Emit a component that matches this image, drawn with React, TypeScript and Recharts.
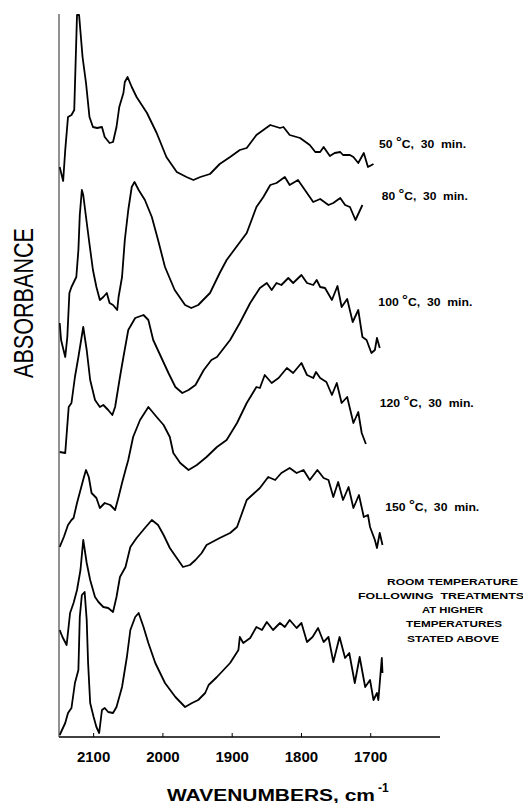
import React from 'react';
import { LineChart, Line, XAxis, YAxis, ReferenceDot } from 'recharts';

const FONT = '"Liberation Sans", Arial, Helvetica, sans-serif';

const X_TICKS = [2100, 2000, 1900, 1800, 1700];
const TEMPS = ['50', '80', '100', '120', '150'];
const ROOM_TEXT = ['ROOM TEMPERATURE', 'FOLLOWING  TREATMENTS', 'AT HIGHER', 'TEMPERATURES', 'STATED ABOVE'];

// [wavenumber cm-1, absorbance (offset, arbitrary units)]
const SPEC_50C: [number, number][] = [
  [2149,570],[2144,556],[2141,587],[2137,620],[2132,622],[2128,627],[2124,722],[2121,722],[2116,680],[2111,654],[2106,620],[2101,610],[2095,609],[2088,610],[2084,600],[2077,594],[2072,595],[2067,610],[2063,630],[2057,644],[2055,655],[2051,660],[2045,650],[2038,640],[2023,624],[2009,604],[1995,580],[1980,565],[1966,560],[1956,557],[1946,560],[1932,563],[1918,573],[1903,580],[1889,587],[1879,589],[1865,602],[1855,607],[1845,612],[1831,609],[1826,610],[1817,602],[1802,599],[1788,592],[1780,585],[1773,585],[1768,590],[1759,581],[1752,584],[1744,585],[1740,582],[1730,582],[1725,580],[1718,574],[1710,584],[1704,570],[1696,573],
];
const SPEC_80C: [number, number][] = [
  [2149,414],[2147,397],[2141,380],[2138,400],[2135,444],[2132,450],[2125,460],[2122,487],[2120,522],[2117,547],[2115,542],[2111,520],[2106,493],[2101,467],[2096,450],[2091,437],[2086,440],[2081,444],[2077,434],[2072,432],[2066,427],[2064,440],[2059,460],[2055,497],[2050,527],[2045,550],[2041,555],[2035,547],[2026,537],[2016,520],[2007,497],[1997,470],[1983,447],[1968,432],[1959,429],[1949,432],[1942,437],[1932,444],[1918,464],[1908,477],[1879,504],[1865,530],[1855,540],[1845,552],[1836,554],[1824,560],[1817,552],[1805,557],[1797,549],[1783,535],[1773,538],[1761,532],[1754,534],[1744,539],[1737,532],[1730,530],[1722,517],[1712,532],
];
const SPEC_100C: [number, number][] = [
  [2149,285],[2141,284],[2136,330],[2132,334],[2127,360],[2122,380],[2115,410],[2110,387],[2105,357],[2098,337],[2091,330],[2086,332],[2079,327],[2073,322],[2069,330],[2062,360],[2057,380],[2050,407],[2040,419],[2028,422],[2021,417],[2014,397],[2002,379],[1992,364],[1982,350],[1972,344],[1963,347],[1953,352],[1941,367],[1930,377],[1922,380],[1903,397],[1889,414],[1874,434],[1860,449],[1850,454],[1843,447],[1836,454],[1829,452],[1819,459],[1812,454],[1800,462],[1792,454],[1783,452],[1778,457],[1773,450],[1766,449],[1756,437],[1748,451],[1742,430],[1734,438],[1726,415],[1718,427],[1712,400],[1706,397],[1699,384],[1694,387],[1691,399],[1687,389],
];
const SPEC_120C: [number, number][] = [
  [2149,190],[2143,200],[2137,212],[2132,217],[2129,219],[2124,234],[2119,247],[2114,260],[2111,267],[2107,260],[2103,244],[2096,239],[2091,229],[2084,234],[2076,232],[2069,227],[2064,240],[2059,254],[2054,267],[2050,277],[2043,300],[2033,317],[2021,330],[2009,320],[1999,312],[1990,300],[1985,284],[1975,274],[1963,267],[1951,272],[1937,280],[1922,290],[1908,297],[1893,314],[1879,334],[1865,350],[1860,349],[1853,362],[1843,354],[1833,359],[1821,369],[1812,364],[1800,374],[1792,362],[1783,359],[1779,365],[1773,359],[1764,355],[1756,342],[1749,354],[1742,334],[1734,340],[1725,314],[1718,325],[1713,304],[1707,293],
];
const SPEC_150C: [number, number][] = [
  [2149,107],[2145,100],[2139,92],[2134,124],[2129,134],[2124,147],[2119,167],[2115,197],[2110,174],[2105,157],[2098,140],[2093,135],[2086,130],[2079,129],[2072,125],[2067,140],[2062,160],[2054,170],[2047,190],[2038,199],[2026,209],[2016,217],[2007,212],[1999,202],[1990,189],[1980,179],[1971,170],[1961,172],[1953,177],[1944,184],[1937,192],[1918,199],[1903,204],[1893,210],[1879,237],[1860,249],[1848,260],[1838,257],[1829,264],[1817,269],[1807,264],[1797,267],[1788,257],[1777,267],[1768,259],[1761,257],[1754,240],[1747,255],[1740,237],[1732,250],[1725,229],[1717,242],[1710,220],[1704,222],[1701,210],[1694,197],[1691,189],[1687,204],[1683,192],
];
const SPEC_RT: [number, number][] = [
  [2149,2],[2141,14],[2137,24],[2132,29],[2127,54],[2122,67],[2120,120],[2117,142],[2113,145],[2110,117],[2108,74],[2105,34],[2100,20],[2096,10],[2092,4],[2088,27],[2084,29],[2079,25],[2072,24],[2067,30],[2059,50],[2052,80],[2047,107],[2040,120],[2035,124],[2028,110],[2021,94],[2011,74],[1997,54],[1982,40],[1968,30],[1958,34],[1949,37],[1939,44],[1934,52],[1922,60],[1903,74],[1891,87],[1889,100],[1884,94],[1874,99],[1865,110],[1857,107],[1850,115],[1841,107],[1831,114],[1824,110],[1817,117],[1807,109],[1800,114],[1792,95],[1784,100],[1776,109],[1768,95],[1761,100],[1754,75],[1745,100],[1737,79],[1731,84],[1723,54],[1716,80],[1708,50],[1701,57],[1696,37],[1691,44],[1689,37],[1684,79],[1683,64],
];

const toPts = (arr: [number, number][]) => arr.map(([w, v]) => ({ w, v }));
const SERIES = [SPEC_50C, SPEC_80C, SPEC_100C, SPEC_120C, SPEC_150C, SPEC_RT].map(toPts);

const XTick = (props: any) => {
  const { x, y, payload } = props;
  return (
    <text x={x} y={y + 11} textAnchor="middle" fontFamily={FONT} fontSize={15} fontWeight="bold" fill="#000">
      {payload.value}
    </text>
  );
};

const XTitle = () => (
  <text x={159} y={793} fontFamily={FONT} fontSize={16} fontWeight="bold" fill="#000">
    <tspan textLength={208} lengthAdjust="spacingAndGlyphs">WAVENUMBERS, cm</tspan>
    <tspan dx={3} dy={-9} fontSize={12}>-1</tspan>
  </text>
);

const YTitle = () => (
  <text transform="translate(25,295) rotate(-90)" x={0} y={0} textAnchor="middle" fontFamily={FONT}
    fontSize={27} fill="#000" textLength={150} lengthAdjust="spacingAndGlyphs">
    ABSORBANCE
  </text>
);

const tempShape = (temp: string, len: number) => (p: any) => (
  <text x={p.cx} y={p.cy} fontFamily={FONT} fontSize={10} fontWeight="bold" fill="#000"
    textLength={len} lengthAdjust="spacingAndGlyphs" style={{ whiteSpace: 'pre' }}>
    {temp + ' '}
    <tspan fontSize={12} dy={-2}>°</tspan>
    <tspan dy={2}>C,  30  min.</tspan>
  </text>
);

const roomShape = (p: any) => {
  const offs = [[12.5, 0, 131], [1, 14, 166], [12.5, 28, 61], [14, 42, 96], [13, 57, 92]];
  return (
    <g>
      {ROOM_TEXT.map((t, i) => (
        <text key={i} x={p.cx + offs[i][0]} y={p.cy + offs[i][1]} textAnchor="middle" fontFamily={FONT}
          fontSize={9.5} fontWeight="bold" fill="#000" textLength={offs[i][2]} lengthAdjust="spacingAndGlyphs"
          style={{ whiteSpace: 'pre' }}>
          {t}
        </text>
      ))}
    </g>
  );
};

const LABEL_ANCHORS: { w: number; v: number; len: number }[] = [
  { w: 1688, v: 589, len: 87 },
  { w: 1684, v: 537, len: 86 },
  { w: 1689, v: 431, len: 94 },
  { w: 1687, v: 330, len: 94 },
  { w: 1679, v: 226, len: 94 },
];

export default function App() {
  return (
    <LineChart width={523} height={795} margin={{ top: 6, right: 91, bottom: 0, left: 0 }} style={{ overflow: 'visible' }}>
      <XAxis
        type="number"
        dataKey="w"
        domain={[1600, 2150]}
        reversed
        allowDataOverflow
        ticks={X_TICKS}
        interval={0}
        height={66}
        tickSize={-4}
        tickMargin={18}
        axisLine={{ stroke: '#000', strokeWidth: 1.5 }}
        tickLine={{ stroke: '#000', strokeWidth: 1 }}
        tick={<XTick />}
        label={<XTitle />}
      />
      <YAxis
        type="number"
        dataKey="v"
        domain={[0, 723]}
        allowDataOverflow
        width={51}
        tick={false}
        tickLine={false}
        axisLine={{ stroke: '#222', strokeWidth: 1 }}
        label={<YTitle />}
      />
      {SERIES.map((d, i) => (
        <Line
          key={i}
          data={d}
          dataKey="v"
          type="linear"
          stroke="#000"
          strokeWidth={1.8}
          strokeLinejoin="round"
          dot={false}
          activeDot={false}
          isAnimationActive={false}
        />
      ))}
      {LABEL_ANCHORS.map((a, i) => (
        <ReferenceDot key={'l' + i} x={a.w} y={a.v} ifOverflow="visible" shape={tempShape(TEMPS[i], a.len)} />
      ))}
      <ReferenceDot x={1600} y={152} ifOverflow="visible" shape={roomShape} />
    </LineChart>
  );
}
